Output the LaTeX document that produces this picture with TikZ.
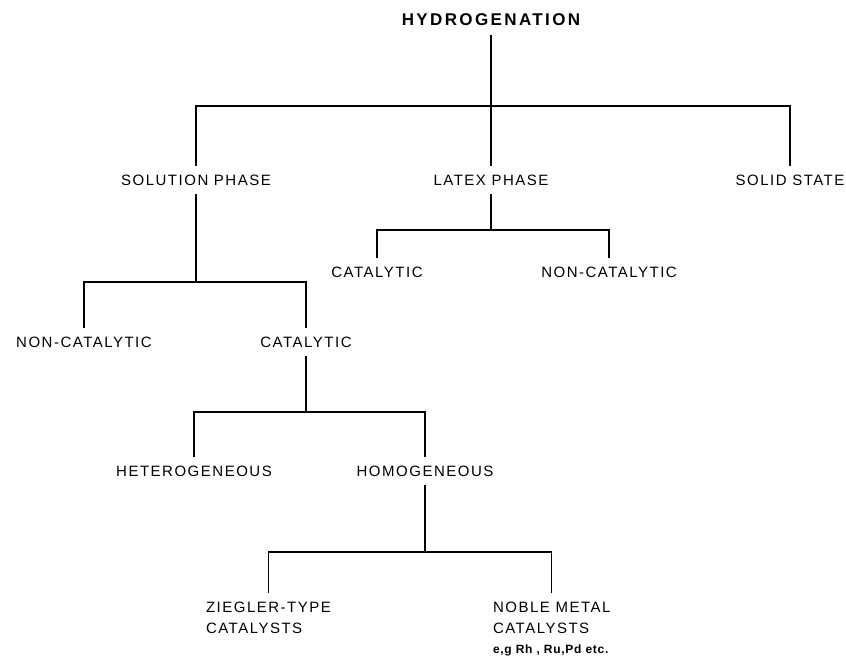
\documentclass[tikz,border=0pt]{standalone}
\usepackage{fontspec}
\newfontfamily\termfont[LetterSpace=10]{Liberation Sans}
\newfontfamily\headfont[LetterSpace=14]{Liberation Sans}
\newfontfamily\notefont[LetterSpace=6]{Liberation Sans}
\usetikzlibrary{positioning}

\tikzset{
  term/.style={inner sep=0pt, outer sep=9pt, font=\termfont\fontsize{15}{21}\selectfont, align=left},
  head/.style={term, font=\headfont\bfseries\fontsize{17}{20}\selectfont},
  tree/.style={line width=1.2pt}
}

\begin{document}
\begin{tikzpicture}[x=1pt,y=-1pt]
\useasboundingbox (0,0) rectangle (846,666);

% labels
\node[head] (root) at (491,20) {HYDROGENATION};
\node[term] (sol) at (196,180) {SOLUTION PHASE};
\node[term] (latex) at (491,180) {LATEX PHASE};
\node[term] (solid) at (790,180) {SOLID STATE};
\node[term] (lcat) at (377,272) {CATALYTIC};
\node[term] (lnon) at (609,272) {NON-CATALYTIC};
\node[term] (snon) at (84,342) {NON-CATALYTIC};
\node[term] (scat) at (306,342) {CATALYTIC};
\node[term] (het) at (194,471) {HETEROGENEOUS};
\node[term] (hom) at (425,471) {HOMOGENEOUS};
\node[term, anchor=north west, outer sep=0pt] (zie) at (206,602) {ZIEGLER-TYPE\\CATALYSTS};
\node[term, anchor=north west, outer sep=0pt] (nob) at (493,602) {NOBLE METAL\\CATALYSTS\\[-1pt]{\notefont\bfseries\fontsize{12}{14}\selectfont e,g Rh , Ru,Pd etc.}};

% junctions
\coordinate (b1) at (491,106);
\coordinate (b2) at (491,230);
\coordinate (b3) at (196,282);
\coordinate (b4) at (306,412);
\coordinate (b5) at (425,552);

% connectors
\draw[tree] (root.south) -- (b1);
\draw[tree] (sol.north) |- (b1) -| (solid.north);
\draw[tree] (b1) -- (latex.north);

\draw[tree] (latex.south) -- (b2);
\draw[tree] (lcat.north) |- (b2) -| (lnon.north);

\draw[tree] (sol.south) -- (b3);
\draw[tree] (snon.north) |- (b3) -| (scat.north);

\draw[tree] (scat.south) -- (b4);
\draw[tree] (het.north) |- (b4) -| (hom.north);

\draw[tree] (hom.south) -- (b5);
\draw[tree] ([yshift=9pt]zie.north) |- (b5) -| ([yshift=9pt]nob.north);
\end{tikzpicture}
\end{document}
